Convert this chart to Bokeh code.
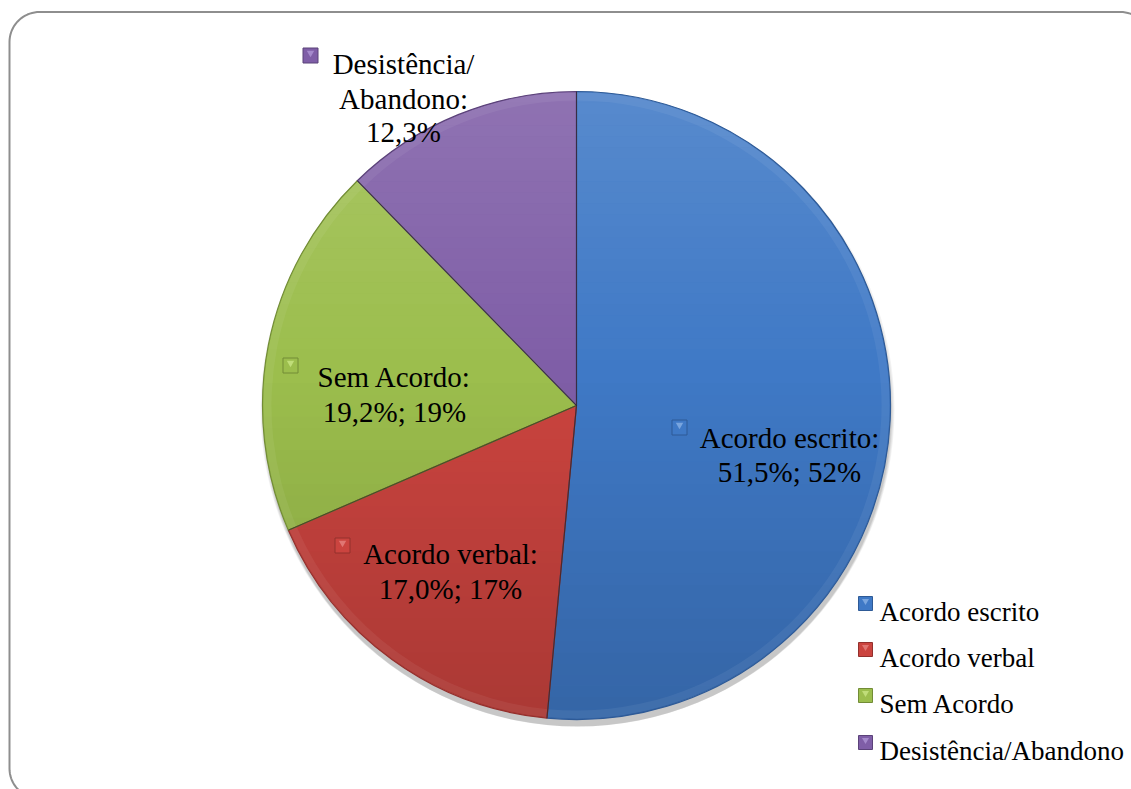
import numpy as np
from bokeh.plotting import figure
from bokeh.models import Range1d, ColumnDataSource
from bokeh.core.properties import value
from bokeh.embed import file_html
from bokeh.resources import INLINE

# ---------------- data ----------------
categories = ["Acordo escrito", "Acordo verbal", "Sem Acordo", "Desistência/Abandono"]
percent = [51.5, 17.0, 19.2, 12.3]
rounded_pct = [52, 17, 19, None]
label_lines = [
    ["Acordo escrito:", "51,5%; 52%"],
    ["Acordo verbal:", "17,0%; 17%"],
    ["Sem Acordo:", "19,2%; 19%"],
    ["Desistência/", "Abandono:", "12,3%"],
]

# ---------------- styles / layout ----------------
colors = ["#3F79C6", "#CB443F", "#9CBE4D", "#7F5EA7"]
edge_colors = ["#2E5A96", "#93302D", "#728C36", "#5B4279"]
light_colors = ["#7FAAE0", "#E27C78", "#C4E07E", "#AA8FD0"]
FONT = "'Liberation Serif', 'Times New Roman', serif"

W, H = 1131, 789
SCREEN_H = 789


def sy(y):
    return SCREEN_H - y


p = figure(width=W, height=H, output_backend="svg", toolbar_location=None,
           x_range=Range1d(0, W), y_range=Range1d(SCREEN_H - H, SCREEN_H),
           min_border=0, outline_line_color=None, background_fill_color="white")
p.axis.visible = False
p.grid.visible = False

# frame (rounded rectangle, partly outside the visible page)
def rounded_rect(x0, y0, x1, y1, r, n=20):
    xs, ys = [], []
    corners = [(x1 - r, y0 + r, -90, 0), (x1 - r, y1 - r, 0, 90),
               (x0 + r, y1 - r, 90, 180), (x0 + r, y0 + r, 180, 270)]
    for cx, cy, a0, a1 in corners:
        t = np.radians(np.linspace(a0, a1, n))
        xs += list(cx + r * np.cos(t))
        ys += list(cy + r * np.sin(t))
    xs.append(xs[0]); ys.append(ys[0])
    return np.array(xs), np.array(ys)

fx, fy = rounded_rect(9, 11.5, 1150, 798, 30)
p.line(fx, [sy(v) for v in fy], line_color="#8E8E8E", line_width=2)

# pie geometry
CX, CY, R = 576, sy(405), 314

# soft shadow
for k, a in enumerate([0.05, 0.05, 0.06, 0.07]):
    p.circle(x=CX + 1, y=CY - 4 - k, radius=R + 3 - k, fill_color="#000000",
             fill_alpha=a, line_color=None)

frac = np.array(percent) / np.sum(percent)
cum = np.concatenate([[0], np.cumsum(frac)])
start = np.radians(90 - 360 * cum[1:])
end = np.radians(90 - 360 * cum[:-1])
src = ColumnDataSource(dict(start=start, end=end, color=colors, edge=edge_colors,
                            cat=categories))
p.wedge(x=CX, y=CY, radius=R, start_angle="start", end_angle="end",
        fill_color="color", line_color=None, source=src)

# lighting overlay: lighter at top, darker at bottom (decorative chord bands)
nb = 56
edges_y = np.linspace(CY + R, CY - R, nb + 1)
bxs, bys, bcol, balpha = [], [], [], []
for j in range(nb):
    ya, yb = edges_y[j], edges_y[j + 1]
    yy = np.linspace(ya, yb, 6)
    half = np.sqrt(np.clip(R ** 2 - (yy - CY) ** 2, 0, None)) - 0.5
    xs = list(CX - half) + list((CX + half)[::-1])
    ys = list(yy) + list(yy[::-1])
    t = (j + 0.5) / nb  # 0 top -> 1 bottom
    if t < 0.45:
        bcol.append("white"); balpha.append(0.13 * (0.45 - t) / 0.45)
    else:
        bcol.append("black"); balpha.append(0.16 * (t - 0.45) / 0.55)
    bxs.append(xs); bys.append(ys)
p.patches(bxs, bys, fill_color=bcol, fill_alpha=balpha, line_color=None)

# bevel rim
p.annular_wedge(x=CX, y=CY, inner_radius=R - 9, outer_radius=R - 1,
                start_angle="start", end_angle="end", fill_color="white",
                fill_alpha=0.06, line_color=None, source=src)
p.wedge(x=CX, y=CY, radius=R, start_angle="start", end_angle="end",
        fill_color=None, line_color="edge", line_width=1.2, source=src)
# separator lines
for a in start:
    p.segment(x0=CX, y0=CY, x1=CX + R * np.cos(a), y1=CY + R * np.sin(a),
              line_color="#222222", line_alpha=0.6, line_width=1)


def key(x, y, i, size=15):
    p.scatter(x=[x], y=[y], marker="square", size=size, fill_color=colors[i],
              line_color=edge_colors[i], line_width=1)
    p.scatter(x=[x], y=[y + 2.5], marker="inverted_triangle", size=size * 0.5,
              fill_color=light_colors[i], line_color=None, fill_alpha=0.9)


# data labels
label_cx = [789, 450, 394, 403]
label_base = [[437, 471], [553, 588], [376, 411], [63, 98, 131]]
label_key = [(679, 427), (342, 545), (290, 365), (310, 55)]
for i in range(len(categories)):
    for line, b in zip(label_lines[i], label_base[i]):
        p.text(x=[label_cx[i]], y=[sy(b)], text=[line], text_font=value(FONT),
               text_font_size="29px", text_align="center", text_baseline="alphabetic",
               text_color="black")
    kx, ky = label_key[i]
    key(kx, sy(ky), i)

# legend
leg_base = [611, 657, 703, 750]
for i, cat in enumerate(categories):
    key(865, sy(leg_base[i] - 8), i, size=14)
    p.text(x=[879], y=[sy(leg_base[i])], text=[cat], text_font=value(FONT),
           text_font_size="27px", text_align="left", text_baseline="alphabetic",
           text_color="black")

open("out.html", "w").write(file_html(p, INLINE))
